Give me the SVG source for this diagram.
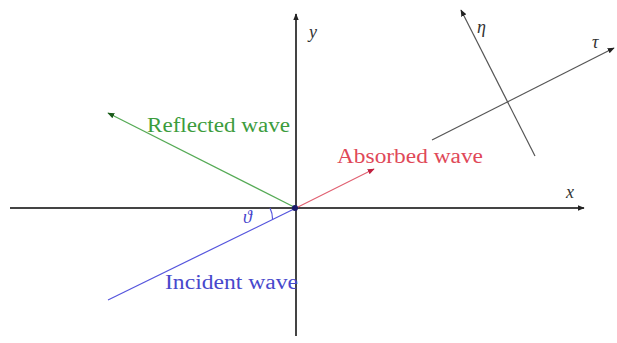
<svg xmlns="http://www.w3.org/2000/svg" width="617" height="343" viewBox="0 0 617 343">
<style>
  .axis{stroke:#444;stroke-width:2;fill:none}
  .thin{stroke:#555;stroke-width:1.2;fill:none}
  text{font-family:"Liberation Serif","DejaVu Serif",serif}
  .lbl{font-size:20px}
  .math{font-size:18px;font-style:italic;fill:#333}
</style>
<defs>
  <marker id="ah" viewBox="0 0 10 10" refX="9" refY="5" markerWidth="7" markerHeight="7" orient="auto" markerUnits="userSpaceOnUse">
    <path d="M0,1 L10,5 L0,9 z" fill="#222"/>
  </marker>
  <marker id="ahg" viewBox="0 0 10 10" refX="9" refY="5" markerWidth="7" markerHeight="7" orient="auto" markerUnits="userSpaceOnUse">
    <path d="M0,1 L10,5 L0,9 z" fill="#1a5a1a"/>
  </marker>
  <marker id="ahr" viewBox="0 0 10 10" refX="9" refY="5" markerWidth="7" markerHeight="7" orient="auto" markerUnits="userSpaceOnUse">
    <path d="M0,1 L10,5 L0,9 z" fill="#c02040"/>
  </marker>
</defs>
<rect width="617" height="343" fill="#fff"/>
<g id="connectors">
  <line class="axis" x1="10" y1="208" x2="584" y2="208" marker-end="url(#ah)"/>
  <line class="axis" x1="296" y1="336" x2="296" y2="14" marker-end="url(#ah)"/>
  <line class="thin" x1="535" y1="156" x2="461" y2="10" marker-end="url(#ah)"/>
  <line class="thin" x1="432" y1="140" x2="614" y2="48" marker-end="url(#ah)"/>
  <line stroke="#55aa55" stroke-width="1.2" x1="296" y1="208" x2="108" y2="113" marker-end="url(#ahg)"/>
  <line stroke="#5555dd" stroke-width="1.2" x1="108" y1="300" x2="296" y2="208"/>
  <line stroke="#e06070" stroke-width="1.2" x1="296" y1="208" x2="374" y2="169" marker-end="url(#ahr)"/>
  <path d="M270,208 A26,26 0 0 1 272.6,219.4" stroke="#5555dd" stroke-width="1.2" fill="none"/>
  <circle cx="295" cy="208" r="3" fill="#1a1a6a"/>
</g>
<g id="label-y"><text class="math" x="309" y="38">y</text></g>
<g id="label-x"><text class="math" x="566" y="198">x</text></g>
<g id="label-eta"><text class="math" x="477" y="33">η</text></g>
<g id="label-tau"><text class="math" x="592" y="48">τ</text></g>
<g id="label-theta"><text class="math" x="243" y="223" fill="#4444cc" style="fill:#4444cc">ϑ</text></g>
<g id="reflected"><text class="lbl" x="147" y="132" fill="#3c9c3c" textLength="143" lengthAdjust="spacingAndGlyphs">Reflected wave</text></g>
<g id="absorbed"><text class="lbl" x="337" y="163" fill="#e04858" textLength="146" lengthAdjust="spacingAndGlyphs">Absorbed wave</text></g>
<g id="incident"><text class="lbl" x="165" y="289" fill="#4848cc" textLength="133" lengthAdjust="spacingAndGlyphs">Incident wave</text></g>
</svg>
